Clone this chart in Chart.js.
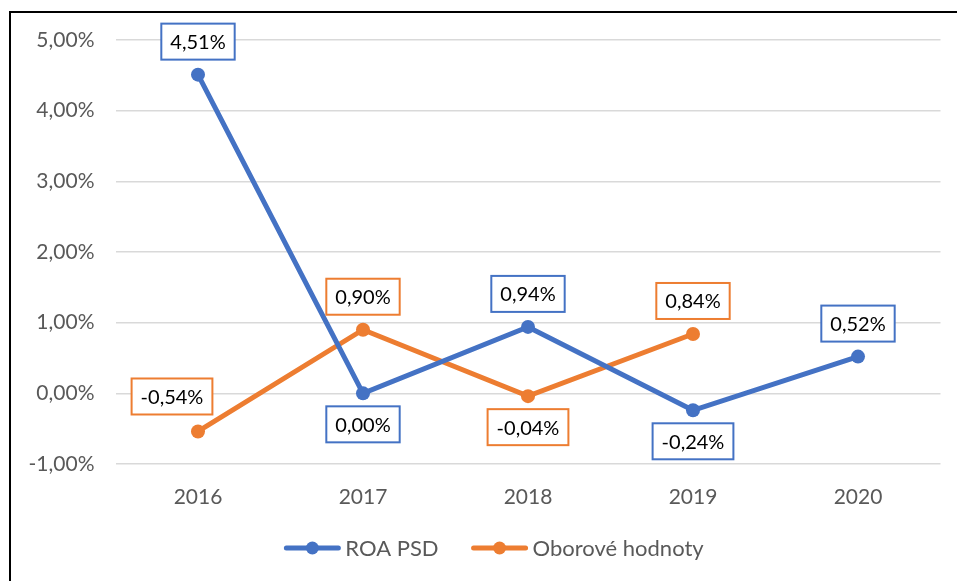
<!DOCTYPE html>
<html>
<head>
<meta charset="utf-8">
<script src="https://cdn.jsdelivr.net/npm/chart.js@4.4.0/dist/chart.umd.min.js"></script>
<style>
  html, body { margin: 0; padding: 0; background: #fff; }
  #wrap { width: 957px; height: 581px; position: relative; }
</style>
</head>
<body>
<div id="wrap"><canvas id="roa-chart" width="957" height="581"></canvas></div>
<script>
const years = ['2016', '2017', '2018', '2019', '2020'];
const roaPsd = [4.51, 0.00, 0.94, -0.24, 0.52];
const oborove = [-0.54, 0.90, -0.04, 0.84, null];
const yTicks = [-1, 0, 1, 2, 3, 4, 5];

// where each value label sits relative to its point
const roaLabelPos = ['above', 'below', 'above', 'below', 'above'];
const oborLabelPos = ['aboveLeft', 'above', 'below', 'above', 'above'];

const blue = '#4472c4';
const orange = '#ed7d31';
const font = 'Lato, "Open Sans", sans-serif';

function fmt(v) {
    return v.toFixed(2).replace('.', ',') + '%';
}

const valueLabels = {
    id: 'valueLabels',
    afterDatasetsDraw(chart) {
        const ctx = chart.ctx;
        ctx.save();
        ctx.font = '20px ' + font;
        ctx.textAlign = 'center';
        ctx.textBaseline = 'middle';
        chart.data.datasets.forEach((ds, i) => {
            const meta = chart.getDatasetMeta(i);
            meta.data.forEach((pt, j) => {
                const v = ds.data[j];
                if (v === null || v === undefined) return;
                const pos = ds.labelPos[j];
                let cx = pt.x, cy = pt.y;
                if (pos === 'above') cy -= 33;
                else if (pos === 'below') cy += 31;
                else if (pos === 'aboveLeft') { cx -= 26; cy -= 35; }
                const txt = fmt(v);
                const w = ctx.measureText(txt).width + 18;
                const h = 36;
                ctx.fillStyle = '#fff';
                ctx.fillRect(cx - w / 2, cy - h / 2, w, h);
                ctx.strokeStyle = ds.borderColor;
                ctx.lineWidth = 2;
                ctx.strokeRect(cx - w / 2, cy - h / 2, w, h);
                ctx.fillStyle = '#000';
                ctx.fillText(txt, cx, cy + 1);
            });
        });
        ctx.restore();
    }
};

const legendAndFrame = {
    id: 'legendAndFrame',
    afterDraw(chart) {
        const ctx = chart.ctx;
        ctx.save();
        // outer frame (left and top edges visible)
        ctx.strokeStyle = '#000';
        ctx.lineWidth = 2;
        ctx.beginPath();
        ctx.moveTo(10, 581);
        ctx.lineTo(10, 12);
        ctx.lineTo(957, 12);
        ctx.stroke();

        // legend
        ctx.font = '22px ' + font;
        ctx.textBaseline = 'middle';
        ctx.textAlign = 'left';
        const y = 548;
        const items = chart.data.datasets.map(ds => ({ label: ds.label, color: ds.borderColor }));
        const lineLen = 56, gap = 5, itemGap = 33;
        const widths = items.map(it => lineLen + gap + ctx.measureText(it.label).width);
        const total = widths.reduce((a, b) => a + b, 0) + itemGap * (items.length - 1);
        let x = (chart.chartArea.left + chart.chartArea.right) / 2 - total / 2 - 34;
        items.forEach((it, k) => {
            ctx.strokeStyle = it.color;
            ctx.lineWidth = 5;
            ctx.lineCap = 'round';
            ctx.beginPath();
            ctx.moveTo(x + 2, y);
            ctx.lineTo(x + lineLen - 2, y);
            ctx.stroke();
            ctx.fillStyle = it.color;
            ctx.beginPath();
            ctx.arc(x + lineLen / 2, y, 6.5, 0, Math.PI * 2);
            ctx.fill();
            ctx.fillStyle = '#595959';
            ctx.fillText(it.label, x + lineLen + gap, y + 1);
            x += widths[k] + itemGap;
        });
        ctx.restore();
    }
};

document.addEventListener('DOMContentLoaded', () => {
    const ctx = document.getElementById('roa-chart').getContext('2d');
    new Chart(ctx, {
        type: 'line',
        data: {
            labels: years,
            datasets: [
                {
                    label: 'ROA PSD',
                    data: roaPsd,
                    labelPos: roaLabelPos,
                    borderColor: blue,
                    backgroundColor: blue,
                    borderWidth: 5,
                    pointRadius: 7,
                    pointHoverRadius: 7,
                    pointBackgroundColor: blue,
                    pointBorderWidth: 0,
                    tension: 0
                },
                {
                    label: 'Oborové hodnoty',
                    data: oborove,
                    labelPos: oborLabelPos,
                    borderColor: orange,
                    backgroundColor: orange,
                    borderWidth: 5,
                    pointRadius: 7,
                    pointHoverRadius: 7,
                    pointBackgroundColor: orange,
                    pointBorderWidth: 0,
                    tension: 0,
                    spanGaps: false
                }
            ]
        },
        options: {
            responsive: false,
            animation: false,
            layout: { padding: { left: 0, right: 16.5, top: 40, bottom: 57 } },
            plugins: {
                legend: { display: false },
                tooltip: { enabled: false }
            },
            scales: {
                x: {
                    offset: true,
                    grid: { display: false },
                    border: { display: false },
                    ticks: { color: '#595959', font: { size: 21, family: font }, padding: 13 },
                    afterFit(scale) { scale.height = 60; }
                },
                y: {
                    min: yTicks[0],
                    max: yTicks[yTicks.length - 1],
                    afterBuildTicks(scale) { scale.ticks = yTicks.map(v => ({ value: v })); },
                    grid: { color: '#d9d9d9', lineWidth: 1.5, drawTicks: false },
                    border: { display: false },
                    ticks: {
                        color: '#595959',
                        font: { size: 21, family: font },
                        padding: 21,
                        callback: v => fmt(v)
                    },
                    afterFit(scale) { scale.width = 115.5; }
                }
            }
        },
        plugins: [valueLabels, legendAndFrame]
    });
});
</script>
</body>
</html>
